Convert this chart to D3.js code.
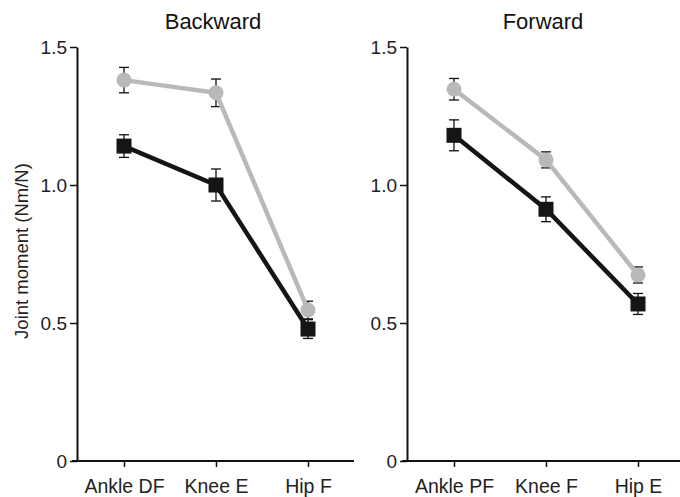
<!DOCTYPE html>
<html>
<head>
<meta charset="utf-8">
<script src="https://cdn.jsdelivr.net/npm/d3@7"></script>
<style>
  body { margin: 0; background: #fff; }
  svg { font-family: "Liberation Sans", Arial, sans-serif; }
</style>
</head>
<body>
<div class="chart_container"></div>
<script>
// data
var backCats = ["Ankle DF", "Knee E", "Hip F"];
var backGray = [1.380, 1.334, 0.547];
var backGrayErr = [0.046, 0.050, 0.032];
var backBlack = [1.141, 1.000, 0.478];
var backBlackErr = [0.041, 0.058, 0.034];

var fwdCats = ["Ankle PF", "Knee F", "Hip E"];
var fwdGray = [1.347, 1.091, 0.674];
var fwdGrayErr = [0.039, 0.029, 0.029];
var fwdBlack = [1.180, 0.912, 0.569];
var fwdBlackErr = [0.056, 0.045, 0.038];

var yTicks = [0, 0.5, 1.0, 1.5];
var yTickLabels = ["0", "0.5", "1.0", "1.5"];

var W = 680, H = 497;
var svg = d3.select(".chart_container").append("svg")
    .attr("width", W).attr("height", H);

var y = d3.scaleLinear().domain([0, 1.5]).range([461, 47]);

var grayCol = "#b9b9b9", blackCol = "#151515";

function panel(x0, axisEnd, title, cats, gray, grayErr, black, blackErr) {
    var g = svg.append("g");
    var x = d3.scalePoint().domain(cats)
        .range([x0 + 47, x0 + 47 + 184]);

    // y axis
    var ya = g.append("g").attr("transform", "translate(" + x0 + ",0)")
        .call(d3.axisLeft(y).tickValues(yTicks)
            .tickFormat(function(d, i) { return yTickLabels[i]; })
            .tickSize(7).tickSizeOuter(0).tickPadding(3));
    ya.attr("font-size", null).attr("font-family", null);
    ya.select(".domain").attr("stroke", "#111").attr("stroke-width", 2);
    ya.selectAll(".tick line").attr("stroke", "#111").attr("stroke-width", 1.5);
    ya.selectAll(".tick text").style("font-size", "19px").attr("fill", "#222");

    // x axis
    var xa = g.append("g").attr("transform", "translate(0," + y(0) + ")")
        .call(d3.axisBottom(x).tickSize(6).tickSizeOuter(0).tickPadding(12));
    xa.attr("font-size", null).attr("font-family", null);
    xa.select(".domain").attr("d", "M" + (x0 - 5) + ",0H" + axisEnd)
        .attr("stroke", "#111").attr("stroke-width", 2);
    xa.selectAll(".tick line").attr("stroke", "#111").attr("stroke-width", 1.5);
    xa.selectAll(".tick text").style("font-size", "19.5px").attr("fill", "#222");

    g.append("text")
        .attr("x", x0 + 47 + 89).attr("y", 29)
        .attr("text-anchor", "middle")
        .style("font-size", "22px").attr("fill", "#111")
        .text(title);

    var series = [
        {vals: gray, err: grayErr, col: grayCol, shape: "circle"},
        {vals: black, err: blackErr, col: blackCol, shape: "square"}
    ];
    var line = d3.line()
        .x(function(d, i) { return x(cats[i]); })
        .y(function(d) { return y(d); });

    // error bars
    series.forEach(function(s) {
        var eb = g.append("g").selectAll("g").data(s.vals).enter().append("g");
        eb.append("line")
            .attr("x1", function(d, i) { return x(cats[i]); })
            .attr("x2", function(d, i) { return x(cats[i]); })
            .attr("y1", function(d, i) { return y(d + s.err[i]); })
            .attr("y2", function(d, i) { return y(d - s.err[i]); })
            .attr("stroke", "#111").attr("stroke-width", 1.3);
        [1, -1].forEach(function(sign) {
            eb.append("line")
                .attr("x1", function(d, i) { return x(cats[i]) - 5; })
                .attr("x2", function(d, i) { return x(cats[i]) + 5; })
                .attr("y1", function(d, i) { return y(d + sign * s.err[i]); })
                .attr("y2", function(d, i) { return y(d + sign * s.err[i]); })
                .attr("stroke", "#111").attr("stroke-width", 1.3);
        });
    });

    series.forEach(function(s) {
        g.append("path").datum(s.vals)
            .attr("d", line)
            .attr("fill", "none")
            .attr("stroke", s.col)
            .attr("stroke-width", 4.5);
        if (s.shape === "circle") {
            g.append("g").selectAll("circle").data(s.vals).enter().append("circle")
                .attr("cx", function(d, i) { return x(cats[i]); })
                .attr("cy", function(d) { return y(d); })
                .attr("r", 7.5)
                .attr("fill", s.col);
        } else {
            g.append("g").selectAll("rect").data(s.vals).enter().append("rect")
                .attr("x", function(d, i) { return x(cats[i]) - 7.5; })
                .attr("y", function(d) { return y(d) - 7.5; })
                .attr("width", 15).attr("height", 15)
                .attr("fill", s.col);
        }
    });
}

panel(77, 354, "Backward", backCats, backGray, backGrayErr, backBlack, backBlackErr);
panel(407, 680, "Forward", fwdCats, fwdGray, fwdGrayErr, fwdBlack, fwdBlackErr);

svg.append("text")
    .attr("transform", "translate(28,251) rotate(-90)")
    .attr("text-anchor", "middle")
    .style("font-size", "18.5px").attr("fill", "#222")
    .text("Joint moment (Nm/N)");
</script>
</body>
</html>
